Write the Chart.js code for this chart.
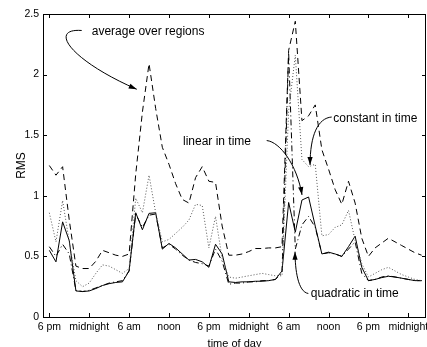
<!DOCTYPE html>
<html>
<head>
<meta charset="utf-8">
<script src="https://cdn.jsdelivr.net/npm/chart.js@4/dist/chart.umd.min.js"></script>
<style>
  html, body { margin: 0; padding: 0; background: #fff; overflow: hidden; }
  #wrap { width: 427px; height: 356px; }
</style>
</head>
<body>
<div id="wrap"><canvas id="chart"></canvas></div>
<script>
// hours after the first 6 pm, one sample per hour
const hours = [0,1,2,3,4,5,6,7,8,9,10,11,12,13,14,15,16,17,18,19,20,21,22,23,24,25,26,27,28,
  29,30,31,32,33,34,35,36,37,38,39,40,41,42,43,44,45,46,47,48,49,50,51,52,53,54,55,56];
const tickHours = [0, 6, 12, 18, 24, 30, 36, 42, 48, 54];
const tickLabels = ['6 pm', 'midnight', '6 am', 'noon', '6 pm', 'midnight', '6 am', 'noon', '6 pm', 'midnight'];

const averageOverRegions = [1.25, 1.17, 1.24, 0.80, 0.42, 0.40, 0.40, 0.46, 0.55, 0.53, 0.51, 0.50, 0.52,
  1.18, 1.69, 2.09, 1.72, 1.40, 1.26, 1.10, 0.97, 0.94, 1.15, 1.24, 1.12, 1.11, 0.75, 0.51,
  0.51, 0.52, 0.54, 0.565, 0.565, 0.57, 0.57, 0.58, 2.20, 2.44, 1.62, 1.66, 1.75, 1.38, 1.22,
  1.05, 0.93, 1.12, 0.94, 0.65, 0.50, 0.57, 0.61, 0.65, 0.62, 0.59, 0.56, 0.53, 0.51];
const constantInTime = [0.86, 0.62, 0.96, 0.62, 0.30, 0.25, 0.28, 0.36, 0.43, 0.42, 0.39, 0.36, 0.40,
  0.98, 0.86, 1.17, 0.86, 0.62, 0.64, 0.69, 0.74, 0.80, 0.93, 0.92, 0.57, 0.83, 0.48, 0.33,
  0.32, 0.33, 0.34, 0.35, 0.36, 0.35, 0.34, 0.34, 1.70, 2.16, 1.30, 1.24, 1.26, 0.67, 0.68,
  0.74, 0.76, 0.88, 0.63, 0.44, 0.33, 0.36, 0.39, 0.41, 0.38, 0.35, 0.33, 0.31, 0.30];
const linearInTime = [0.55, 0.455, 0.785, 0.63, 0.215, 0.21, 0.215, 0.235, 0.26, 0.275, 0.285, 0.29, 0.38,
  0.86, 0.72, 0.855, 0.86, 0.56, 0.607, 0.57, 0.52, 0.47, 0.475, 0.455, 0.41, 0.60, 0.52, 0.29,
  0.285, 0.29, 0.29, 0.295, 0.295, 0.30, 0.31, 0.38, 0.945, 0.70, 0.965, 0.99, 0.75, 0.52, 0.535,
  0.52, 0.50, 0.58, 0.667, 0.41, 0.30, 0.31, 0.325, 0.336, 0.33, 0.32, 0.31, 0.30, 0.30];
const quadraticInTime = [0.58, 0.50, 0.60, 0.52, 0.22, 0.21, 0.22, 0.24, 0.26, 0.28, 0.29, 0.30, 0.38,
  0.85, 0.74, 0.84, 0.85, 0.57, 0.60, 0.56, 0.51, 0.47, 0.45, 0.44, 0.42, 0.56, 0.46, 0.27,
  0.28, 0.28, 0.29, 0.29, 0.30, 0.30, 0.31, 0.36, 2.18, 0.56, 0.76, 0.83, 0.74, 0.52, 0.53,
  0.52, 0.50, 0.56, 0.62, 0.36, 0.30, 0.31, 0.33, 0.34, 0.33, 0.32, 0.31, 0.30, 0.30];

// labels with curved arrows, in data units (hours, RMS)
const notes = [
  { text: 'average over regions', at: [6.38, 2.354], arrow: [[4.87, 2.364], [-0.2, 2.384], [3.11, 2.12], [13.15, 1.879]] },
  { text: 'constant in time', at: [42.72, 1.639], arrow: [[42.48, 1.65], [40.42, 1.642], [39.22, 1.502], [39.22, 1.254]] },
  { text: 'linear in time', at: [20.11, 1.444], arrow: [[32.7, 1.456], [34.7, 1.444], [37.26, 1.254], [38.01, 1.007]] },
  { text: 'quadratic in time', at: [39.32, 0.19], arrow: [[38.96, 0.194], [37.41, 0.206], [36.96, 0.388], [36.96, 0.539]] }
];

const FONT = "'Liberation Sans', Arial, Helvetica, sans-serif";

function series(values) {
  return hours.map((h, i) => ({ x: h, y: values[i] }));
}

const framePlugin = {
  id: 'frame',
  afterDatasetsDraw(chart) {
    const { ctx, chartArea: a, scales: { x, y } } = chart;
    const t = 4;
    ctx.save();
    ctx.strokeStyle = '#000';
    ctx.lineWidth = 1;
    ctx.beginPath();
    tickHours.forEach(h => {
      const px = Math.round(x.getPixelForValue(h)) + 0.5;
      ctx.moveTo(px, a.bottom); ctx.lineTo(px, a.bottom - t);
      ctx.moveTo(px, a.top); ctx.lineTo(px, a.top + t);
    });
    y.ticks.forEach(tk => {
      const py = Math.round(y.getPixelForValue(tk.value)) + 0.5;
      ctx.moveTo(a.left, py); ctx.lineTo(a.left + t, py);
      ctx.moveTo(a.right, py); ctx.lineTo(a.right - t, py);
    });
    ctx.stroke();
    ctx.strokeRect(a.left + 0.5, a.top + 0.5, a.right - a.left - 1, a.bottom - a.top);

    // annotations
    ctx.fillStyle = '#000';
    ctx.font = '12px ' + FONT;
    ctx.textAlign = 'left';
    ctx.textBaseline = 'middle';
    notes.forEach(n => {
      ctx.fillText(n.text, x.getPixelForValue(n.at[0]), y.getPixelForValue(n.at[1]));
      const p = n.arrow.map(q => [x.getPixelForValue(q[0]), y.getPixelForValue(q[1])]);
      ctx.beginPath();
      ctx.moveTo(p[0][0], p[0][1]);
      ctx.bezierCurveTo(p[1][0], p[1][1], p[2][0], p[2][1], p[3][0], p[3][1]);
      ctx.stroke();
      const ang = Math.atan2(p[3][1] - p[2][1], p[3][0] - p[2][0]);
      const L = 8, W = 2.6;
      ctx.beginPath();
      ctx.moveTo(p[3][0], p[3][1]);
      ctx.lineTo(p[3][0] - L * Math.cos(ang) + W * Math.sin(ang), p[3][1] - L * Math.sin(ang) - W * Math.cos(ang));
      ctx.lineTo(p[3][0] - L * Math.cos(ang) - W * Math.sin(ang), p[3][1] - L * Math.sin(ang) + W * Math.cos(ang));
      ctx.closePath();
      ctx.fill();
    });
    ctx.restore();
  }
};

const ctx = document.getElementById('chart').getContext('2d');
new Chart(ctx, {
  type: 'line',
  data: {
    datasets: [
      { label: 'average over regions', data: series(averageOverRegions), borderColor: '#000', borderWidth: 1, borderDash: [6, 4] },
      { label: 'constant in time', data: series(constantInTime), borderColor: '#555', borderWidth: 1, borderDash: [1, 2] },
      { label: 'linear in time', data: series(linearInTime), borderColor: '#000', borderWidth: 1 },
      { label: 'quadratic in time', data: series(quadraticInTime), borderColor: '#000', borderWidth: 1, borderDash: [6, 3, 1, 3] }
    ]
  },
  options: {
    responsive: true,
    maintainAspectRatio: false,
    animation: false,
    layout: { padding: { left: 0, right: 1, top: 14, bottom: 0 } },
    elements: { point: { radius: 0 }, line: { tension: 0, fill: false } },
    plugins: { legend: { display: false }, tooltip: { enabled: false } },
    scales: {
      x: {
        type: 'linear',
        min: -0.95,
        max: 56.66,
        grid: { display: false, drawTicks: false },
        border: { display: false },
        afterBuildTicks: s => { s.ticks = tickHours.map(v => ({ value: v })); },
        afterFit: s => { s.height = 39; s.paddingLeft = 0; s.paddingRight = 0; },
        ticks: {
          autoSkip: false, maxRotation: 0, padding: 3.5, color: '#000',
          font: { family: FONT, size: 10.5 },
          callback: v => tickLabels[tickHours.indexOf(v)]
        },
        title: { display: true, text: 'time of day', color: '#000', font: { family: FONT, size: 11 }, padding: { top: 0, bottom: 5.8 } }
      },
      y: {
        min: 0,
        max: 2.5,
        grid: { display: false, drawTicks: false },
        border: { display: false },
        afterFit: s => { s.width = 43; },
        ticks: {
          stepSize: 0.5, padding: 4, color: '#000',
          font: { family: FONT, size: 10.5 },
          callback: v => String(v)
        },
        title: { display: true, text: 'RMS', color: '#000', font: { family: FONT, size: 12 }, padding: { top: 14.5, bottom: 0 } }
      }
    }
  },
  plugins: [framePlugin]
});
</script>
</body>
</html>
